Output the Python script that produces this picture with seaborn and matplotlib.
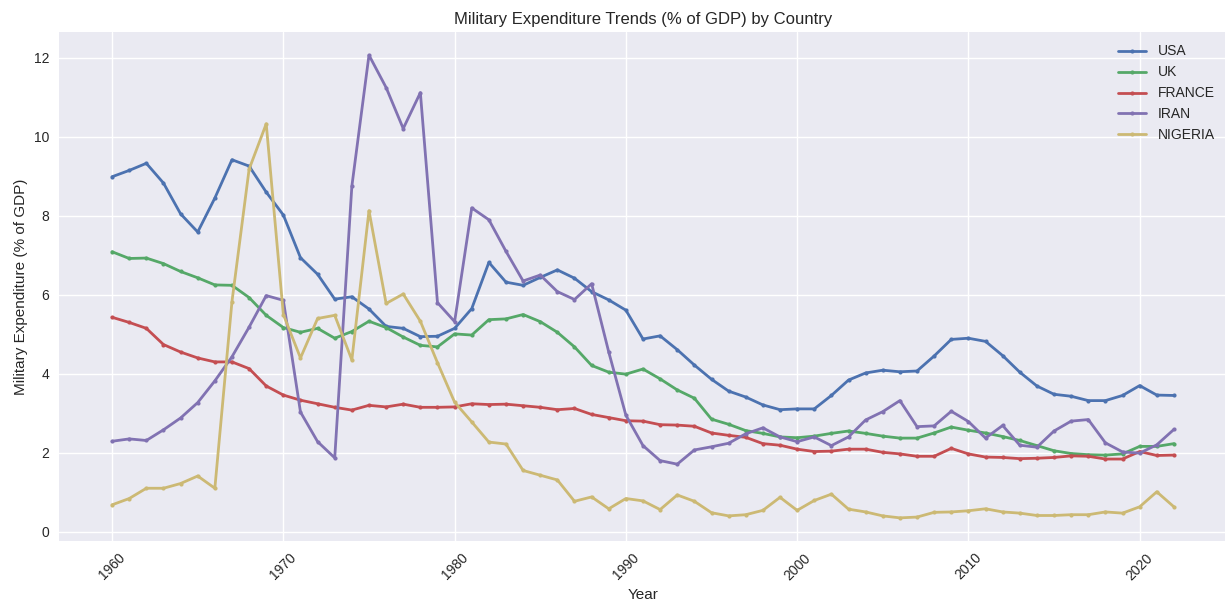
import pandas as pd
import numpy as np
import matplotlib
matplotlib.use('Agg')
import matplotlib.pyplot as plt
import seaborn as sns

# --- DATA ---
years = list(range(1960, 2023))

usa = [8.99, 9.15, 9.33, 8.83, 8.05, 7.59, 8.45, 9.42, 9.26, 8.60,
       8.02, 6.94, 6.52, 5.89, 5.95, 5.64, 5.20, 5.15, 4.94, 4.95,
       5.15, 5.65, 6.82, 6.32, 6.24, 6.44, 6.63, 6.42, 6.08, 5.87,
       5.61, 4.88, 4.96, 4.61, 4.22, 3.86, 3.56, 3.41, 3.21, 3.09,
       3.11, 3.11, 3.45, 3.84, 4.02, 4.09, 4.05, 4.07, 4.45, 4.87,
       4.90, 4.82, 4.46, 4.04, 3.69, 3.48, 3.43, 3.32, 3.32, 3.45,
       3.70, 3.46, 3.45]

uk = [7.09, 6.92, 6.93, 6.79, 6.59, 6.43, 6.25, 6.24, 5.93, 5.48,
      5.17, 5.05, 5.15, 4.90, 5.07, 5.33, 5.17, 4.93, 4.72, 4.68,
      5.01, 4.98, 5.37, 5.39, 5.50, 5.32, 5.05, 4.68, 4.21, 4.04,
      3.99, 4.12, 3.87, 3.59, 3.38, 2.85, 2.72, 2.56, 2.49, 2.40,
      2.38, 2.42, 2.49, 2.55, 2.49, 2.42, 2.37, 2.37, 2.50, 2.65,
      2.57, 2.50, 2.41, 2.31, 2.18, 2.05, 1.98, 1.95, 1.94, 1.97,
      2.16, 2.16, 2.23]

france = [5.43, 5.30, 5.15, 4.74, 4.55, 4.40, 4.30, 4.30, 4.13, 3.69,
          3.46, 3.33, 3.24, 3.15, 3.08, 3.20, 3.16, 3.23, 3.15, 3.15,
          3.16, 3.24, 3.22, 3.23, 3.19, 3.15, 3.09, 3.12, 2.97, 2.89,
          2.81, 2.80, 2.71, 2.70, 2.67, 2.50, 2.44, 2.39, 2.23, 2.19,
          2.09, 2.03, 2.04, 2.09, 2.09, 2.01, 1.97, 1.91, 1.91, 2.11,
          1.97, 1.89, 1.88, 1.85, 1.86, 1.88, 1.92, 1.91, 1.84, 1.84,
          2.03, 1.93, 1.94]

iran = [2.29, 2.35, 2.31, 2.58, 2.88, 3.27, 3.82, 4.43, 5.18, 5.98,
        5.86, 3.03, 2.28, 1.87, 8.75, 12.07, 11.25, 10.21, 11.12, 5.80,
        5.32, 8.20, 7.90, 7.10, 6.35, 6.50, 6.08, 5.88, 6.28, 4.55,
        2.95, 2.18, 1.80, 1.71, 2.07, 2.15, 2.24, 2.48, 2.63, 2.40,
        2.28, 2.40, 2.18, 2.40, 2.83, 3.04, 3.32, 2.66, 2.68, 3.05,
        2.79, 2.37, 2.69, 2.19, 2.14, 2.55, 2.80, 2.84, 2.25, 2.02,
        1.99, 2.20, 2.59]

nigeria = [0.68, 0.84, 1.10, 1.10, 1.22, 1.41, 1.10, 5.83, 9.18, 10.33,
           5.50, 4.40, 5.40, 5.48, 4.35, 8.13, 5.78, 6.02, 5.33, 4.28,
           3.28, 2.78, 2.27, 2.22, 1.55, 1.43, 1.31, 0.77, 0.88, 0.58,
           0.84, 0.78, 0.56, 0.93, 0.77, 0.48, 0.40, 0.43, 0.54, 0.87,
           0.54, 0.79, 0.95, 0.57, 0.50, 0.40, 0.35, 0.37, 0.49, 0.50,
           0.53, 0.58, 0.50, 0.47, 0.41, 0.41, 0.43, 0.43, 0.50, 0.47,
           0.63, 1.01, 0.63]

countries = ['USA', 'UK', 'FRANCE', 'IRAN', 'NIGERIA']
colors = ['#4C72B0', '#55A868', '#C44E52', '#8172B2', '#CCB974']

# --- BUILD LONG TABLE ---
df = pd.DataFrame({'Year': years, 'USA': usa, 'UK': uk, 'FRANCE': france,
                   'IRAN': iran, 'NIGERIA': nigeria})
long_df = df.melt(id_vars='Year', var_name='Country', value_name='Expenditure')

# --- PLOT ---
plt.style.use('seaborn-v0_8')
fig = plt.figure(figsize=(12.25, 6.02), dpi=100)
# axes run right up to (and slightly past) the right edge, as in the reference
ax = fig.add_axes([59 / 1225, 61 / 602, 1168 / 1225, 509 / 602])

sns.lineplot(data=long_df, x='Year', y='Expenditure', hue='Country',
             hue_order=countries, palette=colors, marker='.', markersize=6,
             markeredgewidth=0, linewidth=2, ax=ax)

ax.set_title('Military Expenditure Trends (% of GDP) by Country', fontsize=12)
ax.set_xlabel('Year', fontsize=11)
ax.set_ylabel('Military Expenditure (% of GDP)', fontsize=11)
ax.set_xticks(range(1960, 2021, 10))
plt.xticks(rotation=45)
ax.legend(title=None, loc='upper right', fontsize=10)

plt.savefig('out.png', dpi=100)
